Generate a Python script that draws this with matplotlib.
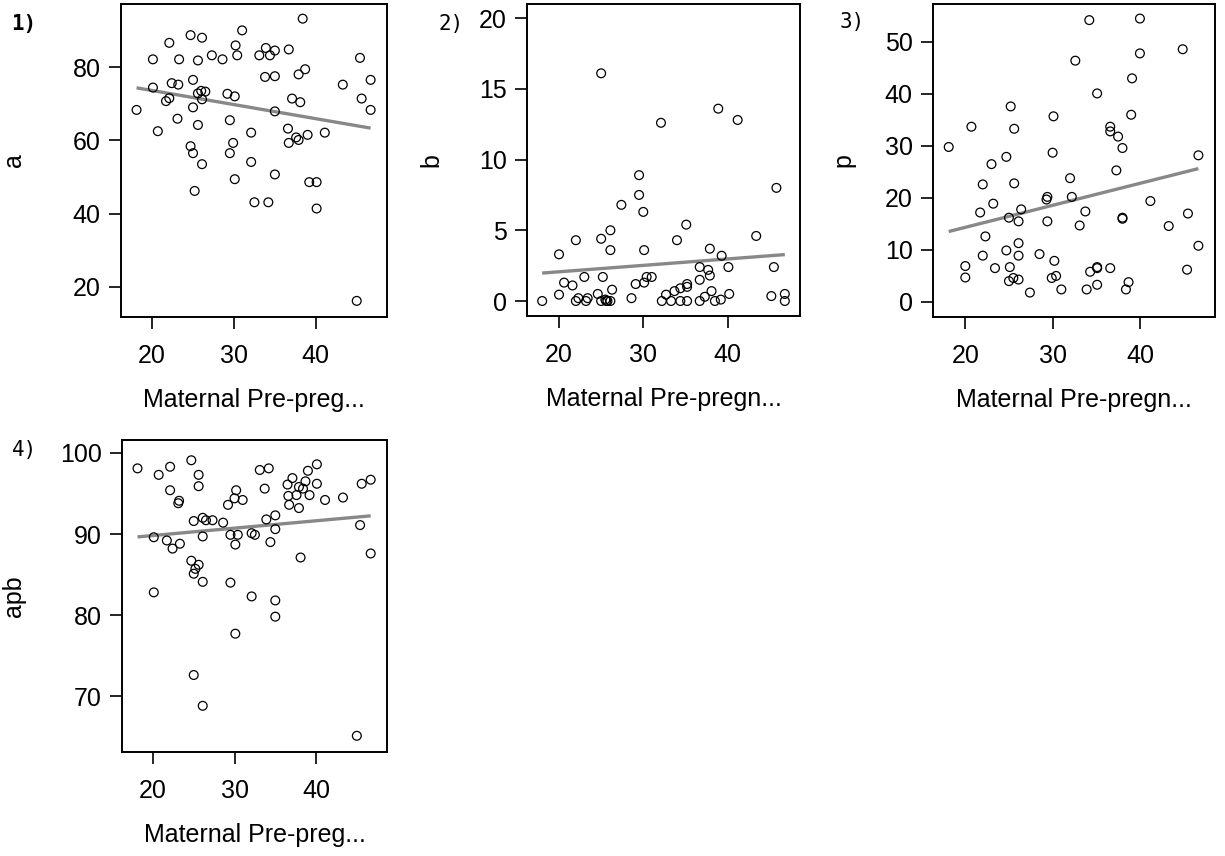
import numpy as np
import matplotlib
matplotlib.use('Agg')
import matplotlib.pyplot as plt

plt.rcParams['font.family'] = ['Liberation Sans', 'DejaVu Sans']

# Panel 1: a vs maternal pre-pregnancy value
x_a = [38.4, 31.0, 24.7, 26.1, 22.1, 30.2, 33.9, 35.0, 36.7, 27.3, 28.6, 30.4,
       33.1, 34.4, 20.1, 23.3, 25.6, 45.4, 38.7, 37.9, 33.8, 35.0, 25.0, 46.7,
       22.4, 23.2, 20.1, 43.3, 26.0, 26.5, 25.6, 26.1, 29.2, 30.1, 22.1, 21.7,
       37.1, 38.1, 45.6, 18.1, 25.0, 35.0, 46.7, 23.1, 29.5, 25.6, 20.7, 32.1,
       36.6, 39.0, 41.1, 37.6, 37.9, 36.7, 29.9, 24.7, 25.0, 29.5, 26.1, 32.1,
       35.0, 30.1, 39.2, 40.1, 25.2, 32.5, 34.2, 40.1, 45.0]
y_a = [93.2, 90.0, 88.7, 88.0, 86.6, 85.9, 85.2, 84.5, 84.8, 83.2, 82.1, 83.2,
       83.2, 83.2, 82.1, 82.1, 81.8, 82.5, 79.4, 78.0, 77.3, 77.5, 76.5, 76.5,
       75.6, 75.2, 74.4, 75.2, 73.5, 73.3, 72.8, 71.2, 72.7, 72.0, 71.5, 70.7,
       71.4, 70.4, 71.4, 68.3, 69.0, 67.9, 68.3, 65.9, 65.5, 64.2, 62.5, 62.1,
       63.2, 61.5, 62.1, 60.8, 60.1, 59.3, 59.3, 58.4, 56.5, 56.5, 53.5, 54.1,
       50.7, 49.4, 48.6, 48.6, 46.2, 43.1, 43.1, 41.4, 16.2]

# Panel 2: b
x_b = [25.0, 38.9, 41.2, 32.1, 29.5, 29.5, 45.8, 27.4, 30.0, 35.1, 26.1, 25.0,
       22.0, 34.0, 43.4, 26.1, 30.1, 20.0, 37.9, 39.3, 36.7, 37.7, 40.1, 45.5,
       37.9, 36.7, 23.0, 25.2, 30.4, 31.0, 30.1, 29.1, 20.6, 21.6, 26.3, 35.2,
       35.2, 34.4, 33.7, 38.1, 20.0, 24.6, 32.7, 40.2, 37.3, 45.2, 46.8, 46.8,
       18.0, 22.3, 22.0, 23.4, 23.2, 25.0, 25.5, 25.75, 26.1, 28.6, 32.2, 33.3,
       34.4, 35.2, 36.7, 38.5, 39.2, 25.6]
y_b = [16.1, 13.6, 12.8, 12.6, 8.9, 7.5, 8.0, 6.8, 6.3, 5.4, 5.0, 4.4,
       4.3, 4.3, 4.6, 3.6, 3.6, 3.3, 3.7, 3.2, 2.4, 2.2, 2.4, 2.4,
       1.8, 1.5, 1.7, 1.7, 1.7, 1.7, 1.3, 1.2, 1.3, 1.1, 0.8, 1.2,
       1.0, 0.9, 0.7, 0.7, 0.45, 0.5, 0.45, 0.5, 0.3, 0.35, 0.5, 0.0,
       0.0, 0.2, 0.0, 0.2, 0.0, 0.0, 0.1, 0.0, 0.0, 0.2, 0.0, 0.0,
       0.0, 0.0, 0.0, 0.0, 0.1, 0.0]

# Panel 3: p
x_p = [34.2, 40.0, 44.9, 40.0, 32.6, 39.1, 35.1, 25.2, 39.0, 30.1, 20.7, 25.6,
       36.6, 36.6, 37.5, 18.1, 38.0, 30.0, 24.7, 46.7, 23.0, 37.3, 32.0, 22.0,
       25.6, 29.4, 29.3, 32.2, 41.2, 23.2, 26.4, 21.7, 33.75, 45.5, 25.0, 38.0,
       38.0, 26.1, 29.4, 33.1, 43.3, 22.3, 26.1, 46.7, 24.7, 22.0, 26.1, 28.5,
       30.2, 20.0, 23.4, 25.1, 35.1, 35.1, 36.6, 45.4, 34.3, 20.0, 30.4, 29.9,
       25.5, 25.0, 26.1, 35.1, 38.7, 27.4, 31.0, 33.9, 38.4]
y_p = [54.2, 54.5, 48.6, 47.8, 46.4, 43.0, 40.1, 37.6, 36.0, 35.7, 33.7, 33.3,
       33.7, 32.8, 31.8, 29.8, 29.6, 28.7, 27.9, 28.2, 26.5, 25.3, 23.8, 22.6,
       22.8, 20.2, 19.7, 20.2, 19.4, 18.9, 17.8, 17.2, 17.4, 17.0, 16.2, 16.2,
       16.0, 15.5, 15.5, 14.7, 14.6, 12.6, 11.3, 10.8, 9.9, 8.9, 8.9, 9.2,
       7.9, 6.9, 6.5, 6.7, 6.7, 6.5, 6.5, 6.2, 5.8, 4.7, 5.0, 4.6,
       4.6, 4.0, 4.3, 3.3, 3.8, 1.8, 2.4, 2.4, 2.4]

# Panel 4: apb
x_apb = [18.1, 20.7, 22.1, 24.7, 25.6, 25.6, 22.1, 23.1, 23.2, 20.1, 21.7, 22.4,
         23.3, 25.0, 26.1, 26.5, 27.3, 28.6, 26.1, 24.7, 25.6, 25.2, 25.0, 26.1,
         20.1, 29.2, 30.0, 30.2, 31.0, 29.5, 30.4, 30.1, 32.1, 32.5, 33.1, 34.2,
         33.7, 33.9, 35.0, 35.0, 34.4, 29.5, 32.1, 35.0, 35.0, 30.1, 25.0, 26.1,
         45.0, 36.5, 37.1, 36.6, 36.7, 37.9, 38.4, 37.6, 37.9, 38.7, 39.0, 39.2,
         40.1, 40.1, 41.1, 43.3, 45.6, 46.7, 45.4, 46.7, 38.1]
y_apb = [98.1, 97.3, 98.3, 99.1, 97.3, 95.9, 95.4, 93.8, 94.1, 89.6, 89.2, 88.2,
         88.8, 91.6, 92.0, 91.7, 91.7, 91.4, 89.7, 86.7, 86.2, 85.7, 85.1, 84.1,
         82.8, 93.6, 94.4, 95.4, 94.2, 89.9, 89.9, 88.7, 90.1, 89.9, 97.9, 98.1,
         95.6, 91.8, 92.3, 90.6, 89.0, 84.0, 82.3, 81.8, 79.8, 77.7, 72.6, 68.8,
         65.1, 96.1, 96.9, 94.7, 93.6, 95.8, 95.6, 94.8, 93.2, 96.5, 97.8, 94.8,
         98.6, 96.2, 94.2, 94.5, 96.2, 96.7, 91.1, 87.6, 87.1]

x_label = ['Maternal Pre-preg...', 'Maternal Pre-pregn...', 'Maternal Pre-pregn...', 'Maternal Pre-preg...']
y_labels = ['a', 'b', 'p', 'apb']
panel_tags = ['1)', '2)', '3)', '4)']
x_ticks = [20, 30, 40]
y_ticks = [[20, 40, 60, 80], [0, 5, 10, 15, 20], [0, 10, 20, 30, 40, 50], [70, 80, 90, 100]]

W, H = 1225, 856
fig = plt.figure(figsize=(W / 100, H / 100), dpi=100)
fig.patch.set_facecolor('white')

# pixel boxes: left, top, right, bottom
boxes = [(121, 4, 387, 317), (527, 4, 800, 316), (933, 4, 1215, 317), (122, 440, 387, 752)]
xlims = [(16.2, 48.7), (16.2, 48.6), (16.3, 48.6), (16.2, 48.7)]
ylims = [(11.8, 97.2), (-1.06, 21.0), (-2.9, 57.3), (63.1, 101.6)]
ylab_px = [26, 443, 855, 26]
tag_px = [(11, 14), (439, 14), (840, 12), (12, 440)]

data = [(x_a, y_a), (x_b, y_b), (x_p, y_p), (x_apb, y_apb)]

for i, (xs, ys) in enumerate(data):
    l, t, r, b = boxes[i]
    ax = fig.add_axes([l / W, 1 - b / H, (r - l) / W, (b - t) / H])
    xs = np.array(xs)
    ys = np.array(ys)
    ax.scatter(xs, ys, s=40, facecolors='none', edgecolors='black', linewidths=0.9, zorder=3)
    k, c = np.polyfit(xs, ys, 1)
    xx = np.array([xs.min(), xs.max()])
    ax.plot(xx, k * xx + c, color='#888888', lw=2.4, zorder=2, solid_capstyle='butt')
    ax.set_xlim(*xlims[i])
    ax.set_ylim(*ylims[i])
    ax.set_xticks(x_ticks)
    ax.set_yticks(y_ticks[i])
    ax.tick_params(direction='out', length=8.5, width=1.2, labelsize=18, colors='black')
    ax.tick_params(axis='x', pad=11)
    ax.tick_params(axis='y', pad=6)
    for s in ax.spines.values():
        s.set_linewidth(1.4)
    ax.set_xlabel(x_label[i], fontsize=18, labelpad=14)
    ax.set_ylabel(y_labels[i], fontsize=18)
    ax.yaxis.set_label_coords((ylab_px[i] - l) / (r - l), 0.5)
    tx, ty = tag_px[i]
    fig.text(tx / W, 1 - ty / H, panel_tags[i], fontsize=15, va='top', ha='left',
             family='DejaVu Sans Mono', fontweight='bold' if i == 0 else 'normal')

fig.savefig('out.png', dpi=100, facecolor='white')
